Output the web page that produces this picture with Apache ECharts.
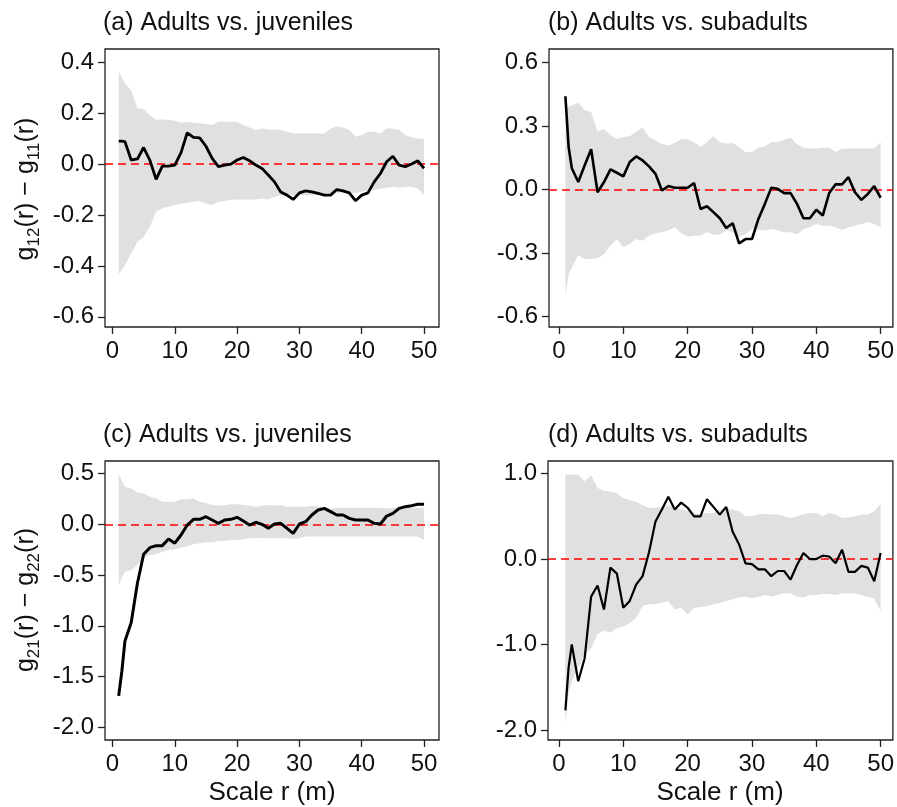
<!DOCTYPE html>
<html><head><meta charset="utf-8">
<script src="https://cdn.jsdelivr.net/npm/echarts@6/dist/echarts.min.js"></script>
<style>html,body{margin:0;padding:0;background:#fff}#c{width:897px;height:807px}</style>
</head><body><div id="c"></div>
<script>
// Scale r (m)
const R = [1,1.5,2,3,4,5,6,7,8,9,10,
  11,12,13,14,15,16,17,18,19,20,
  21,22,23,24,25,26,27,28,29,30,
  31,32,33,34,35,36,37,38,39,40,
  41,42,43,44,45,46,47,48,49,50];

// (a) Adults vs. juveniles : g12 - g11
const lineA = [0.09,0.09,0.088,0.016,0.02,0.065,0.015,-0.06,-0.008,-0.008,-0.004,
  0.045,0.123,0.105,0.103,0.07,0.022,-0.01,-0.004,0.0,0.016,
  0.026,0.013,-0.004,-0.017,-0.043,-0.07,-0.11,-0.122,-0.139,-0.113,
  -0.105,-0.109,-0.115,-0.122,-0.122,-0.1,-0.105,-0.113,-0.144,-0.122,
  -0.113,-0.07,-0.037,0.009,0.031,-0.004,-0.01,0.0,0.013,-0.017];
const hiA = [.363,.34,.317,.29,.219,.216,.193,.173,.176,.173,.17,
  .162,.166,.162,.16,.157,.153,.166,.166,.166,.166,
  .153,.144,.134,.14,.136,.136,.134,.127,.12,.12,
  .12,.12,.12,.12,.14,.149,.144,.134,.107,.114,
  .127,.127,.12,.14,.14,.134,.114,.105,.1,.098];
const loA = [-.432,-.415,-.397,-.351,-.305,-.286,-.246,-.187,-.174,-.168,-.161,
  -.155,-.152,-.148,-.145,-.155,-.161,-.148,-.145,-.141,-.139,
  -.139,-.139,-.139,-.135,-.139,-.128,-.122,-.122,-.122,-.122,
  -.122,-.122,-.122,-.118,-.115,-.113,-.113,-.115,-.113,-.109,
  -.105,-.102,-.096,-.093,-.089,-.092,-.089,-.089,-.096,-.122];

// (b) Adults vs. subadults : g12 - g11
const lineB = [.44,.2,.1,.035,.114,.19,-.013,.035,.095,.079,.062,
  .13,.156,.137,.109,.074,-.005,.016,.008,.008,.008,
  .03,-.092,-.079,-.107,-.136,-.182,-.159,-.254,-.234,-.234,
  -.139,-.068,.008,.003,-.017,-.017,-.068,-.136,-.136,-.096,
  -.123,-.017,.024,.024,.058,-.013,-.049,-.021,.016,-.039];
const hiB = [.382,.39,.398,.409,.374,.366,.272,.287,.256,.24,.248,
  .251,.272,.292,.248,.232,.213,.208,.219,.237,.237,
  .224,.2,.224,.251,.224,.216,.219,.2,.177,.177,
  .197,.204,.224,.224,.235,.245,.213,.197,.193,.193,
  .197,.197,.177,.193,.193,.193,.193,.193,.193,.224];
const loB = [-.502,-.4,-.368,-.31,-.328,-.328,-.324,-.305,-.265,-.234,-.273,
  -.257,-.234,-.242,-.218,-.207,-.202,-.194,-.178,-.207,-.223,
  -.218,-.218,-.202,-.213,-.213,-.194,-.202,-.223,-.21,-.186,
  -.191,-.194,-.186,-.194,-.202,-.202,-.213,-.186,-.178,-.163,
  -.171,-.171,-.178,-.191,-.178,-.171,-.163,-.155,-.163,-.178];

// (c) Adults vs. juveniles : g21 - g22
const lineC = [-1.69,-1.45,-1.15,-.97,-.58,-.295,-.23,-.21,-.21,-.144,-.186,
  -.105,-.007,.049,.049,.075,.043,.01,.043,.049,.069,
  .033,-.007,.02,0,-.039,.003,.01,-.039,-.089,.003,
  .026,.092,.141,.157,.125,.092,.092,.059,.043,.043,
  .043,.01,.003,.082,.108,.157,.174,.184,.197,.197];
const hiC = [.495,.43,.37,.354,.315,.305,.272,.256,.223,.223,.223,
  .246,.246,.256,.223,.207,.19,.184,.19,.197,.197,
  .19,.184,.174,.184,.19,.184,.19,.174,.174,.174,
  .174,.184,.174,.157,.151,.164,.164,.164,.164,.164,
  .164,.164,.164,.157,.164,.164,.164,.164,.164,.164];
const loC = [-.597,-.53,-.466,-.45,-.4,-.334,-.302,-.292,-.269,-.252,-.246,
  -.23,-.213,-.197,-.187,-.177,-.177,-.164,-.164,-.154,-.154,
  -.144,-.138,-.138,-.131,-.138,-.138,-.138,-.138,-.144,-.138,
  -.121,-.121,-.121,-.121,-.121,-.121,-.121,-.121,-.121,-.121,
  -.121,-.121,-.121,-.121,-.121,-.121,-.121,-.121,-.121,-.154];

// (d) Adults vs. subadults : g21 - g22
const lineD = [-1.77,-1.27,-1.0,-1.43,-1.16,-.44,-.31,-.59,-.1,-.17,-.57,
  -.49,-.3,-.2,.08,.44,.58,.73,.58,.66,.6,
  .5,.5,.7,.61,.52,.61,.32,.17,-.05,-.06,
  -.12,-.12,-.2,-.14,-.14,-.24,-.07,.07,0,0,
  .04,.03,-.05,.11,-.15,-.15,-.08,-.1,-.26,.07];
const hiD = [.99,.99,.99,.99,.91,.98,.83,.8,.79,.77,.71,
  .69,.67,.63,.6,.6,.61,.63,.61,.58,.56,
  .54,.52,.54,.54,.58,.6,.58,.56,.5,.5,
  .52,.53,.52,.52,.5,.48,.5,.52,.54,.54,
  .5,.54,.52,.48,.49,.5,.52,.52,.56,.65];
const loD = [-1.95,-1.58,-1.43,-1.27,-1.12,-1.04,-.88,-.84,-.86,-.81,-.79,
  -.75,-.69,-.55,-.53,-.53,-.51,-.49,-.59,-.57,-.65,
  -.57,-.56,-.55,-.53,-.51,-.49,-.47,-.45,-.44,-.46,
  -.44,-.42,-.44,-.42,-.4,-.4,-.44,-.45,-.42,-.42,
  -.41,-.41,-.42,-.4,-.4,-.4,-.42,-.44,-.46,-.61];

// tick labels
const xTicks = [0,10,20,30,40,50];
const yTicksA = [-0.6,-0.4,-0.2,0,0.2,0.4];
const yTicksB = [-0.6,-0.3,0,0.3,0.6];
const yTicksC = [-2,-1.5,-1,-0.5,0,0.5];
const yTicksD = [-2,-1,0,1];

const titles = ['(a) Adults vs. juveniles','(b) Adults vs. subadults','(c) Adults vs. juveniles','(d) Adults vs. subadults'];
const xLabel = 'Scale r (m)';

const FONT = '"Liberation Sans", Arial, Helvetica, sans-serif';
const INK = '#111';

const panels = [
  {line: lineA, hi: hiA, lo: loA, yt: yTicksA, lw:2.8, grid:{left:105, top:49, width:334, height:278}, x:[-1.2,52.4], y:[-0.64,0.452], title:[103,11]},
  {line: lineB, hi: hiB, lo: loB, yt: yTicksB, lw:2.6, grid:{left:549, top:49, width:344, height:278}, x:[-1.55,51.9], y:[-0.649,0.663], title:[548,11]},
  {line: lineC, hi: hiC, lo: loC, yt: yTicksC, lw:3, grid:{left:105, top:461, width:334, height:279}, x:[-1.2,52.4], y:[-2.125,0.624], title:[103,423]},
  {line: lineD, hi: hiD, lo: loD, yt: yTicksD, lw:2.2, grid:{left:548, top:461, width:345, height:279}, x:[-1.7,51.9], y:[-2.117,1.147], title:[548,423]}
];

const grid = [], xAxis = [], yAxis = [], series = [], title = [];
panels.forEach((p, i) => {
  grid.push(Object.assign({show:true, borderColor:'#222', borderWidth:1.3, backgroundColor:'transparent'}, p.grid));
  xAxis.push({type:'value', gridIndex:i, min:p.x[0], max:p.x[1],
    axisLine:{show:false, onZero:false}, splitLine:{show:false},
    axisTick:{show:true, length:7, customValues:xTicks, lineStyle:{color:'#222', width:1.3}},
    axisLabel:{customValues:xTicks, fontSize:24, color:INK, fontFamily:FONT, margin:12}});
  yAxis.push({type:'value', gridIndex:i, min:p.y[0], max:p.y[1],
    axisLine:{show:false, onZero:false}, splitLine:{show:false},
    axisTick:{show:true, length:7, customValues:p.yt, lineStyle:{color:'#222', width:1.3}},
    axisLabel:{customValues:p.yt, fontSize:24, color:INK, fontFamily:FONT, margin:11,
      formatter: v => v.toFixed(1)}});
  // simulation envelope: polygon through hi (forward) and lo (backward)
  series.push({type:'custom', xAxisIndex:i, yAxisIndex:i, silent:true, z:1, clip:true,
    data: R.map((r,k) => [r, p.lo[k], p.hi[k]]),
    encode:{x:0, y:[1,2]},
    renderItem: (params, api) => {
      if (params.dataIndexInside !== 0) return null;
      const pts = [];
      for (let k = 0; k < R.length; k++) pts.push(api.coord([R[k], p.hi[k]]));
      for (let k = R.length - 1; k >= 0; k--) pts.push(api.coord([R[k], p.lo[k]]));
      return {type:'polygon', shape:{points:pts}, style:{fill:'#e0e0e0', stroke:null}};
    }});
  series.push({type:'line', xAxisIndex:i, yAxisIndex:i,
    data: R.map((r,k) => [r, p.line[k]]), symbol:'none',
    lineStyle:{color:'#000', width:p.lw}, z:4,
    markLine:{silent:true, symbol:'none', label:{show:false},
      lineStyle:{color:'#ff0000', type:[8,5], width:1.6, opacity:1}, data:[{yAxis:0}], z:3}});
  title.push({text: titles[i], left:p.title[0], top:p.title[1], padding:0,
    textStyle:{fontSize:25, fontWeight:'normal', color:INK, fontFamily:FONT}});
});

const subRich = {
  g:{fontSize:25, fontFamily:FONT, fill:INK, color:INK, lineHeight:34},
  s:{fontSize:17, fontFamily:FONT, fill:INK, color:INK, lineHeight:18, verticalAlign:'bottom'}
};
function yLab(a, b, x, y){
  return {type:'text', x:x, y:y, rotation:Math.PI/2,
    style:{text:'{g|g}{s|'+a+'}{g|(r) − g}{s|'+b+'}{g|(r)}', rich:subRich,
      align:'center', verticalAlign:'middle', textAlign:'center', textVerticalAlign:'middle', fill:INK}};
}
const graphic = [
  yLab('12','11',26,189),
  yLab('21','22',26,600),
  {type:'text', x:272, y:793, style:{text:xLabel, fontSize:26, fontFamily:FONT, fill:INK, align:'center', verticalAlign:'middle', textAlign:'center', textVerticalAlign:'middle'}},
  {type:'text', x:720, y:793, style:{text:xLabel, fontSize:26, fontFamily:FONT, fill:INK, align:'center', verticalAlign:'middle', textAlign:'center', textVerticalAlign:'middle'}}
];

const chart = echarts.init(document.getElementById('c'), null, {renderer:'canvas'});
chart.setOption({animation:false, backgroundColor:'#fff', title, grid, xAxis, yAxis, series, graphic});
</script>
</body></html>
